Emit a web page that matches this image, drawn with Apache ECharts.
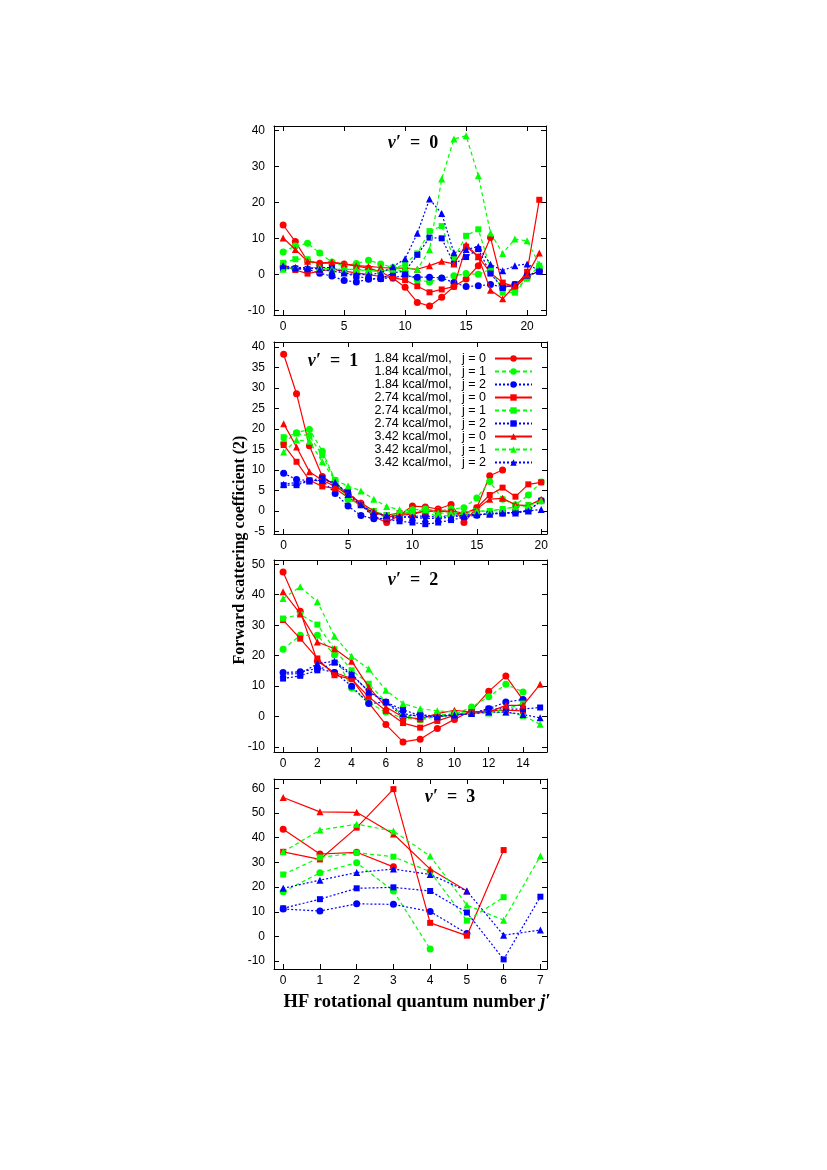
<!DOCTYPE html>
<html>
<head>
<meta charset="utf-8">
<script src="https://cdn.jsdelivr.net/npm/echarts@6/dist/echarts.min.js"></script>
<style>
  html, body { margin: 0; padding: 0; background: #fff; }
  #chart { width: 827px; height: 1170px; }
</style>
</head>
<body>
<div id="chart"></div>
<script>
// HF rotational quantum number j' per panel
const jV0 = [0, 1, 2, 3, 4, 5, 6, 7, 8, 9, 10, 11, 12, 13, 14, 15, 16, 17, 18, 19, 20, 21]
const jV1 = [0, 1, 2, 3, 4, 5, 6, 7, 8, 9, 10, 11, 12, 13, 14, 15, 16, 17, 18, 19, 20]
const jV2 = [0, 1, 2, 3, 4, 5, 6, 7, 8, 9, 10, 11, 12, 13, 14, 15]
const jV3 = [0, 1, 2, 3, 4, 5, 6, 7]

// v' = 0
const v0_184_j0 = [13.8, 9.2, 3.8, 3.2, 3.3, 3.0, 2.4, 1.8, 0.8, -1.0, -3.5, -7.7, -8.7, -6.3, -3.3, -1.2, 2.5, 10.3, -3.0, -3.5, -0.5, 1.0]
const v0_184_j1 = [6.3, 8.0, 8.7, 6.0, 3.5, 2.5, 3.1, 4.0, 3.0, 2.0, 0.5, -1.5, -2.0, -1.0, -0.3, 0.3, 0.1, 1.5, -4.0, -4.5, -1.0, 2.0]
const v0_184_j2 = [2.2, 1.7, 1.5, 0.4, -0.4, -1.6, -2.0, -1.3, -1.1, -0.8, -0.3, -0.7, -0.7, -0.9, -2.2, -3.3, -3.1, -2.7, -3.5, -2.7, -0.3, 1.0]
const v0_274_j0 = [2.5, 1.3, 0.3, 1.0, 1.5, 1.0, 0.5, 0.0, -0.5, -0.8, -1.5, -3.2, -4.9, -4.1, -3.3, 7.8, 5.0, 0.5, -2.2, -3.4, 0.8, 20.8]
const v0_274_j1 = [3.3, 4.3, 4.3, 2.0, 1.5, 1.5, 1.5, 1.2, 0.8, 1.5, 3.0, 5.9, 12.1, 13.5, 4.5, 10.8, 12.6, 1.6, -5.0, -5.0, -1.0, 2.5]
const v0_274_j2 = [1.7, 1.7, 1.5, 2.0, 2.0, 0.5, -0.5, -1.0, -1.2, 0.5, 1.0, 5.5, 10.3, 10.1, 3.0, 4.9, 7.1, 0.3, -3.7, -2.7, -0.3, 0.8]
const v0_342_j0 = [10.2, 7.0, 3.7, 3.2, 3.5, 3.0, 2.5, 2.3, 2.0, 1.8, 1.8, 1.5, 2.5, 3.7, 3.0, 8.3, 5.0, -4.3, -6.7, -3.0, 0.0, 6.0]
const v0_342_j1 = [1.5, 2.0, 2.0, 2.0, 1.5, 1.5, 1.5, 1.0, 1.0, 1.5, 2.0, 1.5, 6.9, 26.6, 37.7, 38.6, 27.5, 11.6, 5.9, 9.9, 9.4, 2.9]
const v0_342_j2 = [2.5, 2.0, 2.0, 1.5, 1.0, 0.5, 0.0, 0.0, 0.5, 2.2, 4.4, 11.5, 21.0, 17.0, 6.1, 7.0, 7.8, 2.9, 1.1, 2.5, 3.0, 1.1]

// v' = 1
const v1_184_j0 = [38.2, 28.6, 15.9, 8.4, 6.3, 4.3, 1.9, -1.4, -2.8, -1.0, 1.2, 1.0, 0.5, 1.6, -2.8, 0.8, 8.6, 10.0, null, null, null]
const v1_184_j1 = [16.5, 19.1, 19.9, 14.6, 7.5, 2.8, 1.5, -0.5, -1.5, -1.0, 0.3, 0.5, 0.0, 0.5, 0.8, 3.2, 7.2, 2.9, 1.5, 3.9, 7.1]
const v1_184_j2 = [9.2, 7.7, 7.4, 7.5, 4.3, 1.2, -1.1, -1.9, -1.8, -1.5, -1.3, -1.2, -1.5, -1.0, -1.0, -1.0, -0.5, -0.5, -0.3, 0.2, 2.5]
const v1_274_j0 = [16.1, 12.0, 7.5, 6.0, 5.5, 3.3, 1.5, -0.6, -1.0, -0.5, -0.5, 0.0, 0.0, -0.3, -0.8, 0.8, 3.9, 5.7, 3.5, 6.5, 7.0]
const v1_274_j1 = [18.0, 18.9, 18.3, 13.6, 7.5, 3.0, 1.5, 0.0, -1.0, -1.0, 0.0, 0.0, -1.5, -1.0, -0.8, 0.0, 0.0, 0.5, 1.0, 1.5, 2.5]
const v1_274_j2 = [6.3, 6.3, 7.4, 8.1, 6.5, 4.7, 1.5, -1.5, -2.0, -2.5, -2.8, -3.2, -2.8, -2.2, -1.5, -1.0, -0.7, -0.5, -0.3, 0.0, 2.5]
const v1_342_j0 = [21.3, 15.6, 9.6, 7.5, 6.0, 4.0, 2.0, 0.0, -1.5, -1.0, -0.8, 0.0, 0.0, 0.0, -0.5, 0.5, 2.9, 3.1, 1.5, 1.3, 2.9]
const v1_342_j1 = [14.4, 17.3, 17.0, 12.0, 7.5, 6.1, 4.9, 2.9, 1.1, 0.3, 0.0, 0.3, -0.5, -0.5, -0.3, 0.0, 0.0, 0.5, 1.0, 1.2, 2.5]
const v1_342_j2 = [6.5, 7.0, 7.3, 7.5, 7.0, 4.0, 1.5, -0.5, -1.0, -1.5, -1.5, -1.8, -1.8, -1.5, -1.0, -0.8, -0.8, -0.5, -0.5, 0.0, 0.4]

// v' = 2
const v2_184_j0 = [47.5, 34.6, 18.2, 14.5, 12.5, 4.5, -2.6, -8.3, -7.4, -3.9, -0.9, 2.0, 8.3, 13.3, 5.5, null]
const v2_184_j1 = [22.1, 26.7, 26.7, 20.2, 9.4, 4.5, 1.5, -0.5, -1.0, 0.0, 0.5, 3.2, 6.5, 10.6, 8.1, null]
const v2_184_j2 = [14.5, 14.7, 15.8, 14.5, 10.0, 4.3, 4.8, 0.0, 0.7, 0.1, 0.5, 1.0, 2.6, 4.8, 5.6, null]
const v2_274_j0 = [31.7, 25.6, 19.1, 13.6, 12.3, 6.5, 1.9, -2.1, -3.6, -1.4, 0.4, 1.5, 1.9, 2.1, 1.9, null]
const v2_274_j1 = [32.2, 33.5, 30.2, 22.1, 15.2, 10.8, 4.8, 0.5, -1.0, 0.5, 1.0, 1.0, 1.5, 2.5, 4.3, null]
const v2_274_j2 = [12.5, 13.4, 15.2, 17.7, 13.6, 8.3, 4.8, 2.2, 0.4, 0.2, 0.7, 1.0, 2.6, 2.5, 2.5, 3.0]
const v2_342_j0 = [41.0, 33.8, 24.5, 22.3, 18.2, 9.7, 3.2, -0.1, -0.7, 1.0, 2.1, 1.5, 1.5, 3.7, 3.7, 10.6]
const v2_342_j1 = [38.8, 42.6, 37.7, 26.4, 19.8, 15.6, 8.7, 4.3, 2.6, 1.9, 1.5, 1.0, 1.2, 1.5, 0.4, -2.5]
const v2_342_j2 = [14.0, 14.1, 17.4, 18.2, 14.1, 8.1, 4.8, 1.0, 0.0, 0.0, 0.5, 1.0, 1.5, 1.5, 0.7, -0.4]

// v' = 3
const v3_184_j0 = [43.4, 33.4, 34.1, 28.2, null, null, null, null]
const v3_184_j1 = [18.1, 25.8, 29.9, 18.4, -5.1, null, null, null]
const v3_184_j2 = [11.1, 10.3, 13.2, 13.0, 10.1, 1.2, null, null]
const v3_274_j0 = [34.3, 31.2, 44.1, 59.7, 5.5, 0.3, 35.0, null]
const v3_274_j1 = [25.1, 32.0, 33.9, 32.3, 26.2, 6.4, 15.9, null]
const v3_274_j2 = [11.4, 15.1, 19.5, 19.9, 18.4, 9.7, -9.3, 16.1]
const v3_342_j0 = [56.3, 50.5, 50.3, 41.5, 27.3, 18.4, null, null]
const v3_342_j1 = [34.3, 43.1, 45.5, 42.7, 32.6, 12.7, 6.6, 32.6]
const v3_342_j2 = [19.5, 22.8, 25.9, 27.3, 25.1, 18.4, 0.5, 2.6]

const seriesNames = [
  '1.84 kcal/mol,   j = 0', '1.84 kcal/mol,   j = 1', '1.84 kcal/mol,   j = 2',
  '2.74 kcal/mol,   j = 0', '2.74 kcal/mol,   j = 1', '2.74 kcal/mol,   j = 2',
  '3.42 kcal/mol,   j = 0', '3.42 kcal/mol,   j = 1', '3.42 kcal/mol,   j = 2'
]

// tick labels per panel
const xTicks0 = [0, 5, 10, 15, 20]
const yTicks0 = [-10, 0, 10, 20, 30, 40]
const xTicks1 = [0, 5, 10, 15, 20]
const yTicks1 = [-5, 0, 5, 10, 15, 20, 25, 30, 35, 40]
const xTicks2 = [0, 2, 4, 6, 8, 10, 12, 14]
const yTicks2 = [-10, 0, 10, 20, 30, 40, 50]
const xTicks3 = [0, 1, 2, 3, 4, 5, 6, 7]
const yTicks3 = [-10, 0, 10, 20, 30, 40, 50, 60]

const panels = [
  { j: jV0, vals: [v0_184_j0, v0_184_j1, v0_184_j2, v0_274_j0, v0_274_j1, v0_274_j2, v0_342_j0, v0_342_j1, v0_342_j2], xt: xTicks0, yt: yTicks0 },
  { j: jV1, vals: [v1_184_j0, v1_184_j1, v1_184_j2, v1_274_j0, v1_274_j1, v1_274_j2, v1_342_j0, v1_342_j1, v1_342_j2], xt: xTicks1, yt: yTicks1 },
  { j: jV2, vals: [v2_184_j0, v2_184_j1, v2_184_j2, v2_274_j0, v2_274_j1, v2_274_j2, v2_342_j0, v2_342_j1, v2_342_j2], xt: xTicks2, yt: yTicks2 },
  { j: jV3, vals: [v3_184_j0, v3_184_j1, v3_184_j2, v3_274_j0, v3_274_j1, v3_274_j2, v3_342_j0, v3_342_j1, v3_342_j2], xt: xTicks3, yt: yTicks3 }
]

// layout (px) and axis extents
const frames = [
  { left: 274, top: 126, width: 272, height: 189, xMin: -0.75, xMax: 21.55, yMin: -11.2, yMax: 41.3, title: '0', tx: 413, ty: 143 },
  { left: 274, top: 342, width: 273, height: 192, xMin: -0.75, xMax: 20.45, yMin: -5.6, yMax: 41.2, title: '1', tx: 333, ty: 361 },
  { left: 274, top: 560, width: 273, height: 192, xMin: -0.53, xMax: 15.4, yMin: -11.6, yMax: 51.4, title: '2', tx: 413, ty: 580 },
  { left: 274, top: 779, width: 273, height: 190, xMin: -0.25, xMax: 7.18, yMin: -13.2, yMax: 63.8, title: '3', tx: 450, ty: 797 }
]

const styles = [
  { color: '#ff0000', type: 'solid', symbol: 'circle', size: 7 },
  { color: '#00ff00', type: [4, 3], symbol: 'circle', size: 7 },
  { color: '#0000ff', type: [2, 2], symbol: 'circle', size: 7 },
  { color: '#ff0000', type: 'solid', symbol: 'rect', size: 6 },
  { color: '#00ff00', type: [4, 3], symbol: 'rect', size: 6 },
  { color: '#0000ff', type: [2, 2], symbol: 'rect', size: 6 },
  { color: '#ff0000', type: 'solid', symbol: 'triangle', size: 7 },
  { color: '#00ff00', type: [4, 3], symbol: 'triangle', size: 7 },
  { color: '#0000ff', type: [2, 2], symbol: 'triangle', size: 7 }
]

const tickFont = { color: '#000', fontFamily: 'Liberation Sans', fontSize: 12 }
const serif = 'Liberation Serif'

const chart = echarts.init(document.getElementById('chart'), null, { renderer: 'canvas' })

const grid = []
const xAxis = []
const yAxis = []
const series = []
const graphic = []

frames.forEach((f, i) => {
  const p = panels[i]
  grid.push({ left: f.left, top: f.top, width: f.width, height: f.height, containLabel: false })
  const line = { show: true, onZero: false, lineStyle: { color: '#000', width: 1 } }
  // bottom + top
  xAxis.push({
    type: 'value', gridIndex: i, position: 'bottom', min: f.xMin, max: f.xMax,
    axisLine: line, splitLine: { show: false },
    axisTick: { inside: true, length: 5, customValues: p.xt, lineStyle: { color: '#000' } },
    axisLabel: Object.assign({ margin: 6, customValues: p.xt }, tickFont)
  })
  xAxis.push({
    type: 'value', gridIndex: i, position: 'top', min: f.xMin, max: f.xMax,
    axisLine: line, splitLine: { show: false },
    axisTick: { inside: true, length: 5, customValues: p.xt, lineStyle: { color: '#000' } },
    axisLabel: { show: false }
  })
  // left + right
  yAxis.push({
    type: 'value', gridIndex: i, position: 'left', min: f.yMin, max: f.yMax,
    axisLine: line, splitLine: { show: false },
    axisTick: { inside: true, length: 5, customValues: p.yt, lineStyle: { color: '#000' } },
    axisLabel: Object.assign({ margin: 9, customValues: p.yt }, tickFont)
  })
  yAxis.push({
    type: 'value', gridIndex: i, position: 'right', min: f.yMin, max: f.yMax,
    axisLine: line, splitLine: { show: false },
    axisTick: { inside: true, length: 5, customValues: p.yt, lineStyle: { color: '#000' } },
    axisLabel: { show: false }
  })

  p.vals.forEach((vals, k) => {
    const st = styles[k]
    series.push({
      name: seriesNames[k],
      type: 'line',
      xAxisIndex: 2 * i,
      yAxisIndex: 2 * i,
      data: vals.map((v, n) => [p.j[n], v]),
      connectNulls: false,
      symbol: st.symbol,
      symbolSize: st.size,
      showAllSymbol: true,
      itemStyle: { color: st.color },
      lineStyle: { color: st.color, width: 1.2, type: st.type },
      emphasis: { disabled: true },
      z: 2 + k
    })
  })

  // panel label v' = n
  graphic.push({
    type: 'text',
    x: f.tx,
    y: f.ty,
    style: {
      text: '{v|v′}{n|  =  ' + f.title + '}',
      align: 'center',
      verticalAlign: 'middle',
      rich: {
        v: { fontFamily: serif, fontStyle: 'italic', fontWeight: 'bold', fontSize: 18, fill: '#000' },
        n: { fontFamily: serif, fontWeight: 'bold', fontSize: 18, fill: '#000' }
      }
    },
    z: 100
  })
})

// axis names
graphic.push({
  type: 'text',
  x: 240,
  y: 550,
  rotation: Math.PI / 2,
  style: {
    text: 'Forward scattering coefficient (2)',
    align: 'center',
    verticalAlign: 'middle',
    fontFamily: serif,
    fontWeight: 'bold',
    fontSize: 16,
    fill: '#000'
  }
})
graphic.push({
  type: 'text',
  x: 417,
  y: 1002,
  style: {
    text: '{a|HF rotational quantum number }{j|j′}',
    align: 'center',
    verticalAlign: 'middle',
    rich: {
      a: { fontFamily: serif, fontWeight: 'bold', fontSize: 18.5, fill: '#000' },
      j: { fontFamily: serif, fontWeight: 'bold', fontStyle: 'italic', fontSize: 18.5, fill: '#000' }
    }
  }
})

const option = {
  animation: false,
  backgroundColor: '#fff',
  grid: grid,
  xAxis: xAxis,
  yAxis: yAxis,
  legend: {
    data: seriesNames,
    orient: 'vertical',
    align: 'right',
    right: 294,
    top: 352,
    itemWidth: 37,
    itemHeight: 8,
    itemGap: 0,
    padding: 0,
    selectedMode: false,
    textStyle: { color: '#000', fontFamily: 'Liberation Sans', fontSize: 12.5, lineHeight: 12.9, padding: [0, 4, 0, 0] }
  },
  graphic: graphic,
  series: series
}

chart.setOption(option)
</script>
</body>
</html>
